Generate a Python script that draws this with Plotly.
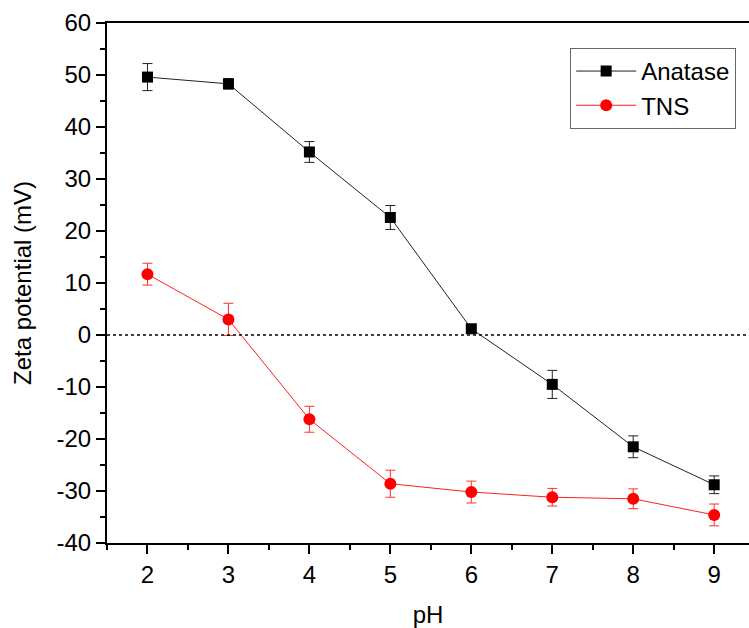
import plotly.graph_objects as go

# Zeta potential vs pH
ph = [2, 3, 4, 5, 6, 7, 8, 9]

anatase_zeta = [49.6, 48.3, 35.2, 22.6, 1.2, -9.5, -21.5, -28.8]
anatase_err = [2.6, 1.0, 2.0, 2.3, 0.8, 2.7, 2.1, 1.7]

tns_zeta = [11.7, 3.0, -16.2, -28.6, -30.2, -31.2, -31.5, -34.6]
tns_err = [2.1, 3.1, 2.5, 2.6, 2.1, 1.7, 1.9, 2.1]

y_ticks = [-40, -30, -20, -10, 0, 10, 20, 30, 40, 50, 60]
x_ticks = [2, 3, 4, 5, 6, 7, 8, 9]

FONT = "Liberation Sans, Arial, sans-serif"
FS = 24

fig = go.Figure()

# zero reference line
fig.add_hline(y=0, line=dict(color="black", width=1.5, dash="dot"))

fig.add_trace(go.Scatter(
    x=ph, y=anatase_zeta, name="Anatase", mode="lines+markers",
    line=dict(color="#222222", width=1),
    marker=dict(symbol="square", size=11, color="black"),
    error_y=dict(type="data", array=anatase_err, visible=True,
                 color="#222222", thickness=1, width=5),
))

fig.add_trace(go.Scatter(
    x=ph, y=tns_zeta, name="TNS", mode="lines+markers",
    line=dict(color="#ff2020", width=1),
    marker=dict(symbol="circle", size=12, color="#ff0000"),
    error_y=dict(type="data", array=tns_err, visible=True,
                 color="#ff3030", thickness=1, width=5),
))

fig.update_layout(
    width=749, height=628,
    margin=dict(l=107, r=0, t=23, b=85),
    plot_bgcolor="white", paper_bgcolor="white",
    font=dict(family=FONT, size=FS, color="black"),
    showlegend=True,
    legend=dict(
        x=0.98, y=0.952, xanchor="right", yanchor="top",
        bordercolor="#666666", borderwidth=1, bgcolor="white",
        font=dict(family=FONT, size=FS, color="black"),
        tracegroupgap=0, itemwidth=60,
    ),
)

fig.update_xaxes(
    range=[1.5, 9.43], tickvals=x_ticks, ticktext=[str(v) for v in x_ticks],
    showgrid=False, zeroline=False, automargin=False,
    showline=True, linecolor="black", linewidth=2, mirror=True,
    ticks="outside", ticklen=9, tickwidth=2, tickcolor="black",
    minor=dict(dtick=0.5, tick0=1.5, ticks="outside", ticklen=5, tickwidth=2, tickcolor="black", showgrid=False),
    title=dict(text="pH", font=dict(family=FONT, size=FS), standoff=27),
    tickfont=dict(family=FONT, size=FS),
)

fig.update_yaxes(
    range=[-40, 60], tickvals=y_ticks, ticktext=[str(v) for v in y_ticks],
    showgrid=False, zeroline=False, automargin=False,
    showline=True, linecolor="black", linewidth=2, mirror=False,
    ticks="outside", ticklen=9, tickwidth=2, tickcolor="black",
    minor=dict(dtick=5, tick0=0, ticks="outside", ticklen=5, tickwidth=2, tickcolor="black", showgrid=False),
    title=dict(text="Zeta potential (mV)", font=dict(family=FONT, size=FS), standoff=18),
    tickfont=dict(family=FONT, size=FS),
)

fig.write_html("out.html")
